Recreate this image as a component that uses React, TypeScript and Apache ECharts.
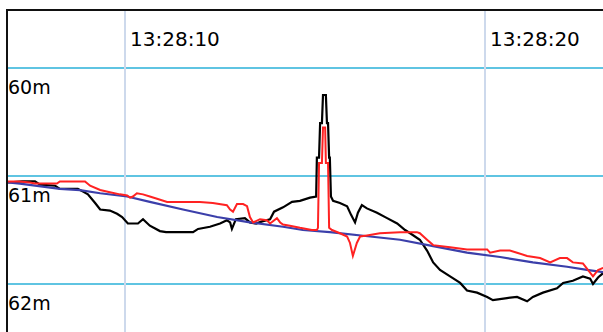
import React, { useEffect, useRef } from "react";
import * as echarts from "echarts";

// Time in seconds after 13:28:00, depth in metres.
const timeTicks = [10, 20];
const timeTickLabels = ["13:28:10", "13:28:20"];
const depthTicks = [60, 61, 62];
const depthTickLabels = ["60m", "61m", "62m"];

const measuredDepth: [number, number][] = [
  [6.75, 61.06], [7.14, 61.05], [7.5, 61.05], [7.64, 61.08], [8.06, 61.09], [8.19, 61.12],
  [8.69, 61.12], [8.81, 61.14], [8.97, 61.17], [9.17, 61.25], [9.31, 61.31], [9.58, 61.32],
  [9.78, 61.35], [9.92, 61.38], [10.08, 61.44], [10.36, 61.44], [10.5, 61.4], [10.69, 61.46],
  [10.97, 61.51], [11.14, 61.52], [11.89, 61.52], [12.03, 61.49], [12.36, 61.47], [12.64, 61.44],
  [12.83, 61.41], [12.92, 61.43], [12.97, 61.49], [13.08, 61.4], [13.33, 61.39], [13.47, 61.43],
  [13.64, 61.44], [13.81, 61.42], [14.03, 61.4], [14.14, 61.33], [14.39, 61.29], [14.64, 61.24],
  [14.86, 61.23], [15.14, 61.2], [15.31, 61.19], [15.33, 60.83], [15.39, 60.83], [15.42, 60.51],
  [15.47, 60.51], [15.5, 60.25], [15.58, 60.25], [15.61, 60.51], [15.64, 60.51], [15.67, 60.83],
  [15.69, 60.83], [15.72, 61.19], [15.78, 61.23], [15.97, 61.25], [16.17, 61.28], [16.28, 61.36],
  [16.39, 61.43], [16.47, 61.34], [16.58, 61.27], [16.72, 61.3], [17.0, 61.34], [17.28, 61.39],
  [17.56, 61.44], [17.78, 61.5], [17.92, 61.53], [18.19, 61.59], [18.39, 61.69], [18.56, 61.8],
  [18.75, 61.87], [19.03, 61.93], [19.31, 61.99], [19.5, 62.06], [19.78, 62.08], [20.06, 62.12],
  [20.22, 62.15], [20.61, 62.13], [20.89, 62.12], [21.17, 62.16], [21.33, 62.12], [21.61, 62.08],
  [22.0, 62.04], [22.17, 61.99], [22.44, 61.97], [22.72, 61.93], [22.92, 61.95], [23.0, 62.0],
  [23.14, 61.94], [23.28, 61.9],
];

const filteredDepth: [number, number][] = [
  [6.75, 61.05], [7.08, 61.05], [7.36, 61.06], [7.5, 61.07], [8.11, 61.07], [8.19, 61.05],
  [8.89, 61.05], [9.03, 61.09], [9.31, 61.13], [9.58, 61.15], [9.86, 61.17], [10.06, 61.18],
  [10.14, 61.2], [10.22, 61.19], [10.33, 61.16], [10.5, 61.17], [10.69, 61.19], [10.89, 61.21],
  [11.17, 61.24], [12.08, 61.24], [12.44, 61.25], [12.83, 61.27], [12.92, 61.31], [13.0, 61.33],
  [13.11, 61.26], [13.28, 61.26], [13.39, 61.28], [13.47, 61.38], [13.56, 61.43], [13.75, 61.4],
  [13.94, 61.41], [14.03, 61.44], [14.22, 61.39], [14.31, 61.43], [14.39, 61.45], [14.58, 61.46],
  [14.86, 61.48], [15.19, 61.5], [15.33, 61.5], [15.36, 61.48], [15.39, 60.88], [15.47, 60.88],
  [15.5, 60.55], [15.56, 60.55], [15.58, 60.88], [15.64, 60.88], [15.67, 61.48], [15.75, 61.5],
  [15.97, 61.53], [16.17, 61.56], [16.25, 61.62], [16.33, 61.74], [16.44, 61.62], [16.53, 61.56],
  [16.72, 61.55], [17.08, 61.53], [17.64, 61.52], [18.11, 61.52], [18.19, 61.53], [18.39, 61.59],
  [18.56, 61.64], [19.03, 61.66], [19.5, 61.68], [20.06, 61.68], [20.14, 61.71], [20.42, 61.69],
  [20.69, 61.69], [20.89, 61.71], [21.17, 61.74], [21.53, 61.76], [21.81, 61.8], [22.08, 61.76],
  [22.28, 61.76], [22.44, 61.8], [22.72, 61.81], [22.86, 61.87], [23.0, 61.93], [23.14, 61.87],
  [23.28, 61.85],
];

const trendDepth: [number, number][] = [
  [6.75, 61.06], [7.08, 61.07], [8.19, 61.12], [8.75, 61.13], [9.31, 61.16], [10.06, 61.19],
  [10.69, 61.24], [11.61, 61.31], [12.56, 61.38], [13.47, 61.43], [14.39, 61.47], [14.94, 61.5],
  [15.69, 61.52], [16.81, 61.56], [17.64, 61.59], [18.56, 61.65], [19.5, 61.71], [20.42, 61.75],
  [21.33, 61.8], [22.28, 61.84], [22.83, 61.87], [23.28, 61.89],
];

const FONT = "'DejaVu Sans', 'Liberation Sans', sans-serif";

export default function App() {
  const ref = useRef<HTMLDivElement>(null);

  useEffect(() => {
    if (!ref.current) return;
    const chart = echarts.init(ref.current, undefined, { renderer: "svg" });
    const line = (data: [number, number][], color: string, width: number, z: number) => ({
      type: "line",
      data,
      showSymbol: false,
      symbol: "none",
      z,
      lineStyle: { color, width, join: "miter" },
    });
    chart.setOption({
      animation: false,
      backgroundColor: "#ffffff",
      // The plot area reaches past the frame so that ticks start on round values.
      grid: { left: -235, top: -40, width: 1080, height: 432, outerBoundsMode: "none", containLabel: false },
      xAxis: {
        type: "value",
        position: "top",
        offset: -50,
        min: 0,
        max: 30,
        interval: 10,
        axisLine: { show: false },
        axisTick: { show: false },
        splitLine: { show: true, lineStyle: { color: "#cdd9ec", width: 2 } },
        axisLabel: {
          inside: true,
          margin: 29,
          align: "left",
          verticalAlign: "middle",
          padding: [0, 0, 0, 5],
          fontFamily: FONT,
          fontSize: 20,
          color: "#000000",
          formatter: (v: number) => {
            const i = timeTicks.indexOf(v);
            return i >= 0 ? timeTickLabels[i] : "";
          },
        },
      },
      yAxis: {
        type: "value",
        inverse: true,
        min: 59,
        max: 63,
        interval: 1,
        offset: -242,
        axisLine: { show: false },
        axisTick: { show: false },
        splitLine: { show: true, lineStyle: { color: "#5fc4e2", width: 2 } },
        axisLabel: {
          inside: true,
          margin: 1,
          align: "left",
          verticalAlign: "top",
          lineHeight: 37,
          fontFamily: FONT,
          fontSize: 19,
          color: "#000000",
          formatter: (v: number) => {
            const i = depthTicks.indexOf(v);
            return i >= 0 ? depthTickLabels[i] : "";
          },
        },
      },
      series: [
        line(measuredDepth, "#000000", 2.2, 3),
        line(trendDepth, "#3b3faa", 2.2, 4),
        line(filteredDepth, "#ff2222", 2, 5),
      ],
      graphic: [
        { type: "rect", z: 100, shape: { x: 0, y: 0, width: 603, height: 9 }, style: { fill: "#ffffff" } },
        { type: "rect", z: 100, shape: { x: 0, y: 0, width: 6, height: 332 }, style: { fill: "#ffffff" } },
        {
          type: "rect",
          z: 101,
          shape: { x: 7, y: 10, width: 700, height: 400 },
          style: { fill: "none", stroke: "#111111", lineWidth: 2 },
        },
      ],
    });
    return () => chart.dispose();
  }, []);

  return (
    <div
      ref={ref}
      style={{ position: "fixed", left: 0, top: 0, width: 603, height: 332, background: "#fff" }}
    />
  );
}
